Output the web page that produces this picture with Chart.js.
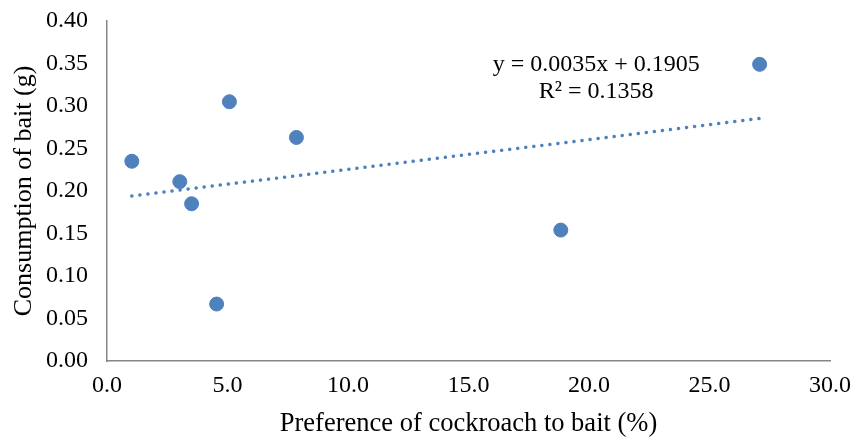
<!DOCTYPE html>
<html>
<head>
<meta charset="utf-8">
<script src="https://cdn.jsdelivr.net/npm/chart.js@4/dist/chart.umd.min.js"></script>
<style>
  html, body { margin: 0; padding: 0; background: #ffffff; }
  #box { width: 851px; height: 441px; }
</style>
</head>
<body>
<div id="box"><canvas id="myChart" width="851" height="441"></canvas></div>
<script>
// values
var preferencia = [1.03, 3.02, 3.51, 4.55, 5.08, 7.86, 18.83, 27.08]; // x (%)
var consumo = [0.235, 0.211, 0.185, 0.067, 0.305, 0.263, 0.154, 0.349]; // y (g)
var tendInclinacao = 0.0035; // slope printed on the chart
var tendIntercepto = 0.1905; // intercept printed on the chart
var textoEquacao = ['y = 0.0035x + 0.1905', 'R² = 0.1358'];
var ticksX = [0, 5, 10, 15, 20, 25, 30];
var ticksY = [0, 0.05, 0.1, 0.15, 0.2, 0.25, 0.3, 0.35, 0.4];

var azul = '#4f81bd';
var fonte = "'Liberation Serif', 'Times New Roman', serif";

function montaPontos() {
    var pontos = [];
    for (var i = 0; i < preferencia.length; i++) {
        pontos.push({ x: preferencia[i], y: consumo[i] });
    }
    return pontos;
}

function montaTendencia() { // linha de tendência entre o menor e o maior x
    var xmin = Math.min.apply(null, preferencia);
    var xmax = Math.max.apply(null, preferencia);
    return [
        { x: xmin, y: tendInclinacao * xmin + tendIntercepto },
        { x: xmax, y: tendInclinacao * xmax + tendIntercepto }
    ];
}

// escreve a equação na posição do gráfico (coordenadas de dados)
var pluginEquacao = {
    id: 'equacao',
    afterDatasetsDraw: function (chart) {
        var ctx = chart.ctx;
        var px = chart.scales.x.getPixelForValue(20.3);
        var py = chart.scales.y.getPixelForValue(0.349);
        ctx.save();
        ctx.fillStyle = '#000000';
        ctx.font = '24px ' + fonte;
        ctx.textAlign = 'center';
        ctx.textBaseline = 'middle';
        ctx.fillText(textoEquacao[0], px, py);
        ctx.fillText(textoEquacao[1], px, py + 27);
        ctx.restore();
    }
};

function criaGrafico() {
    var myChart = new Chart(document.getElementById('myChart'), {
        type: 'scatter',
        data: {
            datasets: [{
                label: 'dados',
                data: montaPontos(),
                backgroundColor: azul,
                borderColor: azul,
                pointRadius: 7,
                pointHoverRadius: 7,
                order: 1
            }, {
                label: 'tendencia',
                type: 'line',
                data: montaTendencia(),
                borderColor: azul,
                borderWidth: 3.5,
                borderDash: [0.1, 8],
                borderCapStyle: 'round',
                pointRadius: 0,
                fill: false,
                order: 2
            }]
        },
        options: {
            responsive: false,
            animation: false,
            layout: { padding: { top: 21, right: 21, left: 0, bottom: 0 } },
            plugins: {
                legend: { display: false },
                tooltip: { enabled: false }
            },
            scales: {
                x: {
                    type: 'linear',
                    min: 0,
                    max: 30,
                    afterBuildTicks: function (axis) {
                        axis.ticks = ticksX.map(function (v) { return { value: v }; });
                    },
                    afterFit: function (axis) { // tamanho fixo, sem folga extra
                        axis.height = 80;
                        axis.paddingLeft = 0;
                        axis.paddingRight = 0;
                    },
                    grid: { display: false, drawTicks: false },
                    border: { display: true, color: '#868686', width: 1.5 },
                    ticks: {
                        color: '#000000',
                        padding: 10,
                        font: { family: fonte, size: 24 },
                        callback: function (v) { return v.toFixed(1); }
                    },
                    title: {
                        display: true,
                        text: 'Preference of cockroach to bait (%)',
                        color: '#000000',
                        font: { family: fonte, size: 26.5 },
                        padding: { top: 2, bottom: 1 }
                    }
                },
                y: {
                    type: 'linear',
                    min: 0,
                    max: 0.4,
                    afterBuildTicks: function (axis) {
                        axis.ticks = ticksY.map(function (v) { return { value: v }; });
                    },
                    afterFit: function (axis) {
                        axis.width = 107;
                        axis.paddingTop = 0;
                        axis.paddingBottom = 0;
                    },
                    grid: { display: false, drawTicks: false },
                    border: { display: true, color: '#868686', width: 1.5 },
                    ticks: {
                        color: '#000000',
                        padding: 19,
                        font: { family: fonte, size: 24 },
                        callback: function (v) { return v.toFixed(2); }
                    },
                    title: {
                        display: true,
                        text: 'Consumption of bait (g)',
                        color: '#000000',
                        font: { family: fonte, size: 26 },
                        padding: { top: 9, bottom: 0 }
                    }
                }
            }
        },
        plugins: [pluginEquacao]
    });
    return myChart;
}

criaGrafico();
</script>
</body>
</html>
